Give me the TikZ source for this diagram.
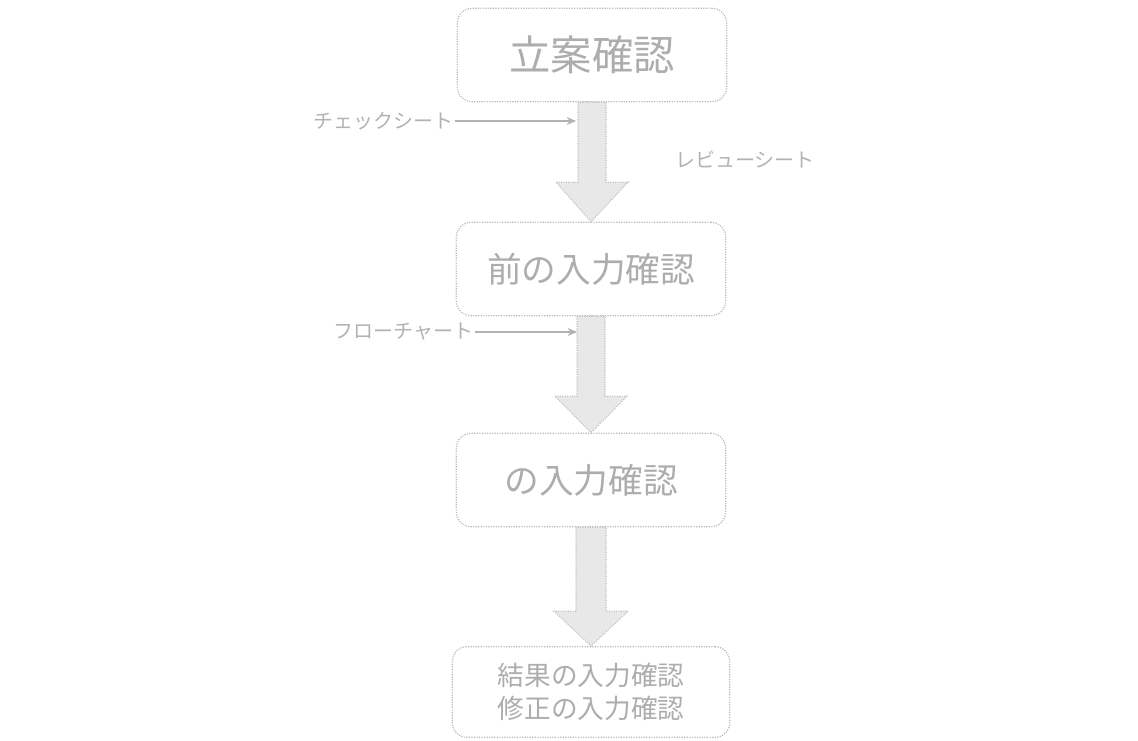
\documentclass[tikz,border=0pt]{standalone}
\usepackage{fontspec}
\newfontfamily\jp{Noto Sans CJK JP}
\usetikzlibrary{calc,arrows.meta}
\begin{document}
\begin{tikzpicture}[x=0.75pt,y=-0.75pt,
  box/.style={draw=black!28, densely dotted, line width=0.9pt, rounded corners=11pt,
    minimum width=202pt, minimum height=70pt, inner sep=0pt, text=black!32,
    font=\jp\fontsize{26}{30}\selectfont},
  bigbox/.style={box, font=\jp\fontsize{31}{34}\selectfont},
  smallbox/.style={box, minimum width=208pt, minimum height=68pt, align=center,
    font=\jp\fontsize{20}{25}\selectfont},
  fatarrow/.style={draw=black!25, densely dotted, line width=0.8pt, fill=black!9},
  lab/.style={text=black!30, inner sep=1pt, font=\jp\fontsize{15}{17}\selectfont},
  side/.style={draw=black!30, line width=0.8pt, -{Stealth[length=7pt,width=6pt]}}]
\useasboundingbox (0,0) rectangle (1138,741);
\node[bigbox] (b1) at (592,55) {立案確認};
\node[box] (b2) at (591,269) {前の入力確認};
\node[box] (b3) at (591,480) {の入力確認};
\node[smallbox] (b4) at (591,692) {結果の入力確認\\修正の入力確認};
% fat arrows
\draw[fatarrow] ($(b1.south)+(-14,0)$) -- ($(b1.south)+(-14,80)$) -- ($(b1.south)+(-36,80)$)
  -- (b2.north) -- ($(b1.south)+(36,80)$) -- ($(b1.south)+(14,80)$) -- ($(b1.south)+(14,0)$) -- cycle;
\draw[fatarrow] ($(b2.south)+(-14,0)$) -- ($(b2.south)+(-14,80)$) -- ($(b2.south)+(-36,80)$)
  -- (b3.north) -- ($(b2.south)+(36,80)$) -- ($(b2.south)+(14,80)$) -- ($(b2.south)+(14,0)$) -- cycle;
\draw[fatarrow] ($(b3.south)+(-15,0)$) -- ($(b3.south)+(-15,84)$) -- ($(b3.south)+(-37,84)$)
  -- (b4.north) -- ($(b3.south)+(37,84)$) -- ($(b3.south)+(15,84)$) -- ($(b3.south)+(15,0)$) -- cycle;
% side labels and arrows
\node[lab, anchor=east] (l1) at (455,121) {チェックシート};
\coordinate (a1) at (576,121);
\draw[side] (l1.east) -- (a1);
\node[lab, anchor=east] (l2) at (475,332) {フローチャート};
\coordinate (a2) at (577,332);
\draw[side] (l2.east) -- (a2);
\node[lab] (r1) at (745,160) {レビューシート};
\end{tikzpicture}
\end{document}
